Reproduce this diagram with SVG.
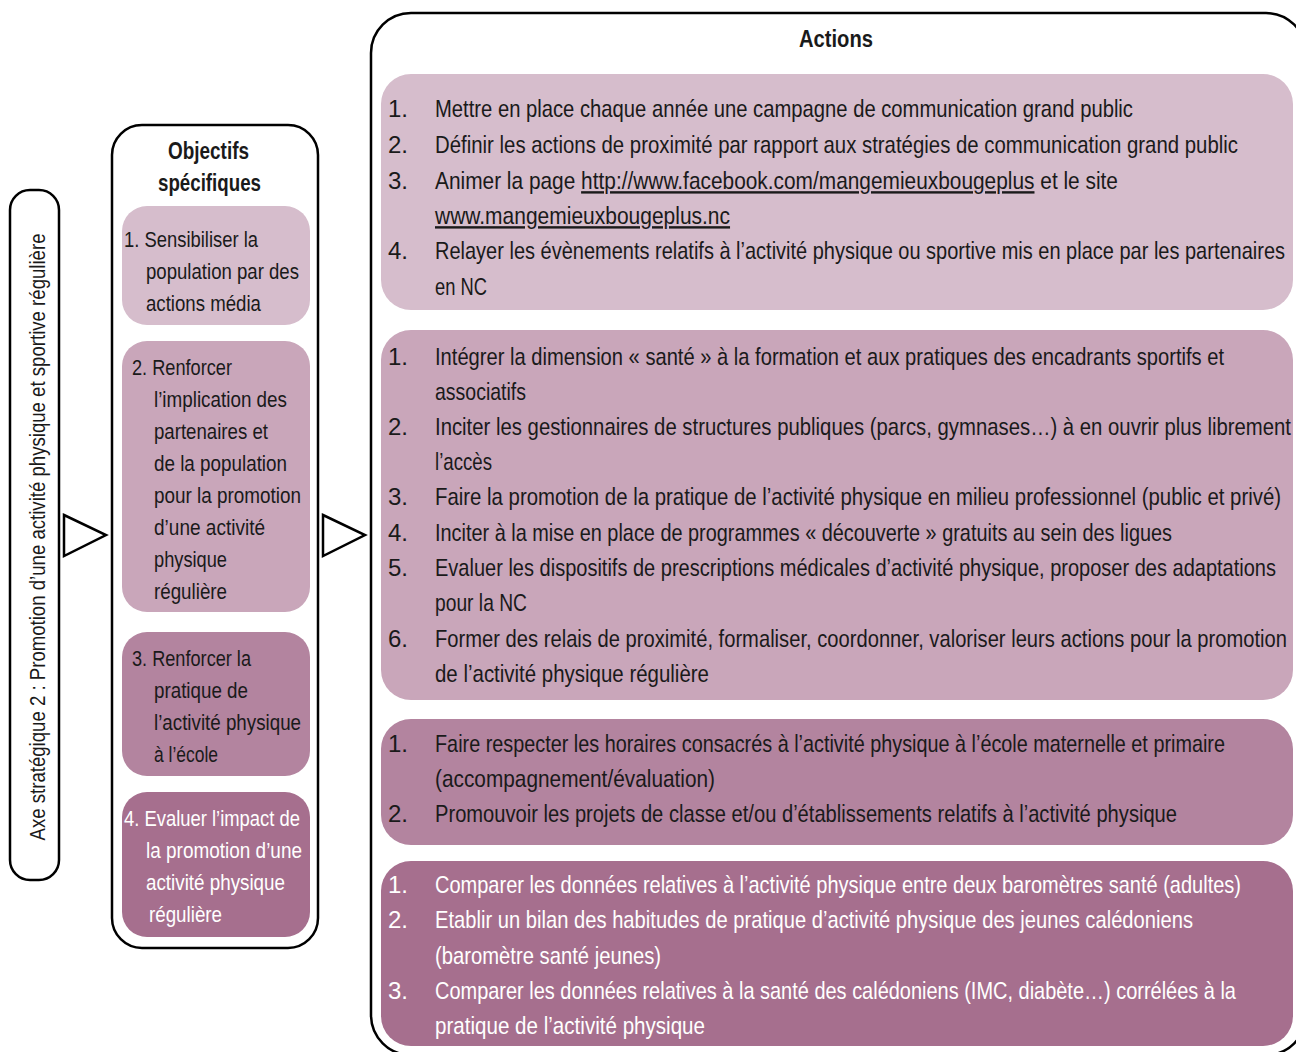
<svg xmlns="http://www.w3.org/2000/svg" width="1296" height="1052" viewBox="0 0 1296 1052">
<style>
.frame{fill:#fff;stroke:#000;stroke-width:2.5}
.c1{fill:#d6bdcc}.c2{fill:#c9a6ba}.c3{fill:#b3849f}.c4{fill:#a66f8e}
text{font-family:"Liberation Sans",Arial,sans-serif;fill:#1a1a1a}
.a{font-size:24px}
.m{font-size:22px}
.w{fill:#ffffff}
.b{font-weight:bold;font-size:23px}
.u{text-decoration:underline}
.tri{fill:#fff;stroke:#000;stroke-width:2.5}
</style>
<rect width="1296" height="1052" fill="#fff"/>
<g id="axe">
<rect class="frame" x="10" y="190" width="49" height="690" rx="20"/>
<text class="m" transform="translate(45,537) rotate(-90)" text-anchor="middle" textLength="607" lengthAdjust="spacingAndGlyphs">Axe stratégique 2 :  Promotion d’une activité physique et sportive régulière</text>
</g>
<g id="connectors">
<polygon class="tri" points="64,515 106,535 64,556"/>
<polygon class="tri" points="323,515 365,535 323,556"/>
</g>
<g id="objectifs">
<rect class="frame" x="112" y="125" width="206" height="823" rx="30"/>
<text class="b" x="168" y="159" textLength="81" lengthAdjust="spacingAndGlyphs">Objectifs</text>
<text class="b" x="158" y="191" textLength="103" lengthAdjust="spacingAndGlyphs">spécifiques</text>
</g>
<g id="obj1">
<rect class="c1" x="122" y="206" width="188" height="119" rx="25"/>
<text class="m" x="124" y="247" textLength="134" lengthAdjust="spacingAndGlyphs">1. Sensibiliser la</text>
<text class="m" x="146" y="279" textLength="153" lengthAdjust="spacingAndGlyphs">population par des</text>
<text class="m" x="146" y="311" textLength="115" lengthAdjust="spacingAndGlyphs">actions média</text>
</g>
<g id="obj2">
<rect class="c2" x="122" y="341" width="188" height="271" rx="25"/>
<text class="m" x="132" y="375" textLength="100" lengthAdjust="spacingAndGlyphs">2. Renforcer</text>
<text class="m" x="154" y="407" textLength="133" lengthAdjust="spacingAndGlyphs">l’implication des</text>
<text class="m" x="154" y="439" textLength="114" lengthAdjust="spacingAndGlyphs">partenaires et</text>
<text class="m" x="154" y="471" textLength="133" lengthAdjust="spacingAndGlyphs">de la population</text>
<text class="m" x="154" y="503" textLength="147" lengthAdjust="spacingAndGlyphs">pour la promotion</text>
<text class="m" x="154" y="535" textLength="111" lengthAdjust="spacingAndGlyphs">d’une activité</text>
<text class="m" x="154" y="567" textLength="73" lengthAdjust="spacingAndGlyphs">physique</text>
<text class="m" x="154" y="599" textLength="73" lengthAdjust="spacingAndGlyphs">régulière</text>
</g>
<g id="obj3">
<rect class="c3" x="122" y="632" width="188" height="144" rx="25"/>
<text class="m" x="132" y="666" textLength="119" lengthAdjust="spacingAndGlyphs">3. Renforcer la</text>
<text class="m" x="154" y="698" textLength="94" lengthAdjust="spacingAndGlyphs">pratique de</text>
<text class="m" x="154" y="730" textLength="147" lengthAdjust="spacingAndGlyphs">l’activité physique</text>
<text class="m" x="154" y="762" textLength="64" lengthAdjust="spacingAndGlyphs">à l’école</text>
</g>
<g id="obj4">
<rect class="c4" x="122" y="792" width="188" height="145" rx="25"/>
<text class="m w" x="124" y="826" textLength="176" lengthAdjust="spacingAndGlyphs">4. Evaluer l’impact de</text>
<text class="m w" x="146" y="858" textLength="156" lengthAdjust="spacingAndGlyphs">la promotion d’une</text>
<text class="m w" x="146" y="890" textLength="139" lengthAdjust="spacingAndGlyphs">activité physique</text>
<text class="m w" x="149" y="922" textLength="73" lengthAdjust="spacingAndGlyphs">régulière</text>
</g>
<g id="actions">
<rect class="frame" x="371" y="13" width="935" height="1042" rx="40"/>
<text class="b" x="799" y="47" textLength="74" lengthAdjust="spacingAndGlyphs">Actions</text>
</g>
<g id="action-group-1">
<rect class="c1" x="381" y="74" width="912" height="236" rx="30"/>
<text class="a" x="388" y="117">1.</text>
<text class="a" x="388" y="153">2.</text>
<text class="a" x="388" y="189">3.</text>
<text class="a" x="388" y="259">4.</text>
<g transform="translate(435,0) scale(0.82,1)">
<text class="a" x="0" y="117" textLength="851.2" lengthAdjust="spacingAndGlyphs">Mettre en place chaque année une campagne de communication grand public</text>
<text class="a" x="0" y="153" textLength="979.3" lengthAdjust="spacingAndGlyphs">Définir les actions de proximité par rapport aux stratégies de communication grand public</text>
<text class="a" x="0" y="189" textLength="832.9" lengthAdjust="spacingAndGlyphs">Animer la page <tspan class="u">http://www.facebook.com/mangemieuxbougeplus</tspan> et le site</text>
<text class="a u" x="0" y="224" textLength="359.8" lengthAdjust="spacingAndGlyphs">www.mangemieuxbougeplus.nc</text>
<text class="a" x="0" y="259" textLength="1036.6" lengthAdjust="spacingAndGlyphs">Relayer les évènements relatifs à l’activité physique ou sportive mis en place par les partenaires</text>
<text class="a" x="0" y="295" textLength="63.4" lengthAdjust="spacingAndGlyphs">en NC</text>
</g>
</g>
<g id="action-group-2">
<rect class="c2" x="381" y="330" width="912" height="370" rx="30"/>
<text class="a" x="388" y="365">1.</text>
<text class="a" x="388" y="435">2.</text>
<text class="a" x="388" y="505">3.</text>
<text class="a" x="388" y="541">4.</text>
<text class="a" x="388" y="576">5.</text>
<text class="a" x="388" y="647">6.</text>
<g transform="translate(435,0) scale(0.82,1)">
<text class="a" x="0" y="365" textLength="962.2" lengthAdjust="spacingAndGlyphs">Intégrer la dimension « santé » à la formation et aux pratiques des encadrants sportifs et</text>
<text class="a" x="0" y="400" textLength="111" lengthAdjust="spacingAndGlyphs">associatifs</text>
<text class="a" x="0" y="435" textLength="1043.9" lengthAdjust="spacingAndGlyphs">Inciter les gestionnaires de structures publiques (parcs, gymnases…) à en ouvrir plus librement</text>
<text class="a" x="0" y="470" textLength="69.5" lengthAdjust="spacingAndGlyphs">l’accès</text>
<text class="a" x="0" y="505" textLength="1031.7" lengthAdjust="spacingAndGlyphs">Faire la promotion de la pratique de l’activité physique en milieu professionnel (public et privé)</text>
<text class="a" x="0" y="541" textLength="898.8" lengthAdjust="spacingAndGlyphs">Inciter à la mise en place de programmes « découverte » gratuits au sein des ligues</text>
<text class="a" x="0" y="576" textLength="1025.6" lengthAdjust="spacingAndGlyphs">Evaluer les dispositifs de prescriptions médicales d’activité physique, proposer des adaptations</text>
<text class="a" x="0" y="611" textLength="112.2" lengthAdjust="spacingAndGlyphs">pour la NC</text>
<text class="a" x="0" y="647" textLength="1039" lengthAdjust="spacingAndGlyphs">Former des relais de proximité, formaliser, coordonner, valoriser leurs actions pour la promotion</text>
<text class="a" x="0" y="682" textLength="334.1" lengthAdjust="spacingAndGlyphs">de l’activité physique régulière</text>
</g>
</g>
<g id="action-group-3">
<rect class="c3" x="381" y="719" width="912" height="126" rx="30"/>
<text class="a" x="388" y="752">1.</text>
<text class="a" x="388" y="822">2.</text>
<g transform="translate(435,0) scale(0.82,1)">
<text class="a" x="0" y="752" textLength="963.4" lengthAdjust="spacingAndGlyphs">Faire respecter les horaires consacrés à l’activité physique à l’école maternelle et primaire</text>
<text class="a" x="0" y="787" textLength="341.5" lengthAdjust="spacingAndGlyphs">(accompagnement/évaluation)</text>
<text class="a" x="0" y="822" textLength="904.9" lengthAdjust="spacingAndGlyphs">Promouvoir les projets de classe et/ou d’établissements relatifs à l’activité physique</text>
</g>
</g>
<g id="action-group-4">
<rect class="c4" x="381" y="861" width="912" height="185" rx="30"/>
<text class="a w" x="388" y="893">1.</text>
<text class="a w" x="388" y="928">2.</text>
<text class="a w" x="388" y="999">3.</text>
<g transform="translate(435,0) scale(0.82,1)">
<text class="a w" x="0" y="893" textLength="982.9" lengthAdjust="spacingAndGlyphs">Comparer les données relatives à l’activité physique entre deux baromètres santé (adultes)</text>
<text class="a w" x="0" y="928" textLength="924.4" lengthAdjust="spacingAndGlyphs">Etablir un bilan des habitudes de pratique d’activité physique des jeunes calédoniens</text>
<text class="a w" x="0" y="964" textLength="275.6" lengthAdjust="spacingAndGlyphs">(baromètre santé jeunes)</text>
<text class="a w" x="0" y="999" textLength="976.8" lengthAdjust="spacingAndGlyphs">Comparer les données relatives à la santé des calédoniens (IMC,  diabète…) corrélées à la</text>
<text class="a w" x="0" y="1034" textLength="329.3" lengthAdjust="spacingAndGlyphs">pratique de l’activité physique</text>
</g>
</g>
</svg>
